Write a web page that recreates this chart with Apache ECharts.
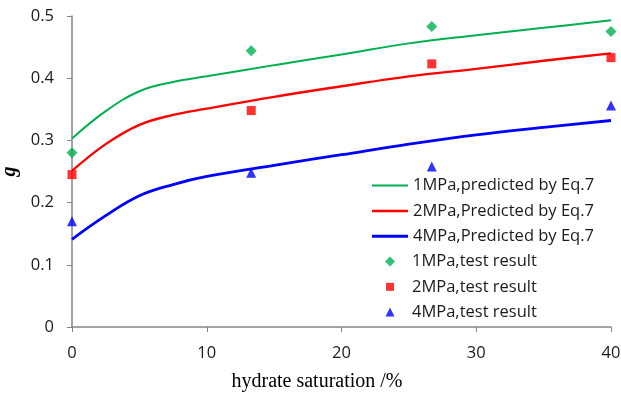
<!DOCTYPE html>
<html>
<head>
<meta charset="utf-8">
<script src="https://cdn.jsdelivr.net/npm/echarts@6/dist/echarts.min.js"></script>
<style>
  html, body { margin: 0; padding: 0; background: #fff; }
  #chart { width: 621px; height: 394px; }
</style>
</head>
<body>
<div id="chart"></div>
<script>
// Hydrate saturation (%) where the model curves are evaluated
const curveX = [0, 2.5, 5, 7.5, 10, 15, 20, 25, 30, 35, 40];
// Predicted g (Eq.7) at each confining pressure
const pred1MPa = [0.303, 0.347, 0.379, 0.394, 0.403, 0.421, 0.438, 0.456, 0.469, 0.481, 0.493];
const pred2MPa = [0.251, 0.294, 0.325, 0.341, 0.351, 0.370, 0.387, 0.403, 0.415, 0.428, 0.440];
const pred4MPa = [0.141, 0.179, 0.211, 0.229, 0.242, 0.260, 0.277, 0.294, 0.309, 0.321, 0.332];

// Measured g values from the tests
const testX = [0, 13.3, 26.7, 40];
const test1MPa = [0.280, 0.444, 0.483, 0.475];
const test2MPa = [0.245, 0.348, 0.423, 0.433];
const test4MPa = [0.170, 0.248, 0.258, 0.356];

const xTicks = { min: 0, max: 40, interval: 10 };
const yTicks = { min: 0, max: 0.5, interval: 0.1 };

const names = [
  '1MPa,predicted by Eq.7', '2MPa,Predicted by Eq.7', '4MPa,Predicted by Eq.7',
  '1MPa,test result', '2MPa,test result', '4MPa,test result'
];

const pair = (xs, ys) => xs.map((x, i) => [x, ys[i]]);

const GREEN = '#00B050', RED = '#FF0000', BLUE = '#0000FF', AXIS = '#868686';
const FONT = 'Open Sans';
const TEXT = '#1a1a1a';
const FONT_SIZE = 16.5;

// Legend rows: one legend per entry so each key sits on its own baseline
const rowCenters = [185, 210.5, 235.8, 261, 286.3, 311.5];
const lineKeys = [
  { color: GREEN, width: 2 },
  { color: RED, width: 2.5 },
  { color: BLUE, width: 3 }
];
const markKeys = [
  { icon: 'diamond', size: 10 },
  { icon: 'rect', size: 8 },
  { icon: 'triangle', size: 9 }
];
const legendText = { fontFamily: FONT, fontSize: FONT_SIZE, color: TEXT };

const legends = [];
lineKeys.forEach((k, i) => {
  legends.push({
    data: [{ name: names[i], icon: 'rect' }],
    left: 372, top: rowCenters[i] - 8,
    padding: 0,
    itemWidth: 36, itemHeight: k.width,
    itemStyle: { borderWidth: 0 },
    textStyle: legendText
  });
});
markKeys.forEach((k, i) => {
  legends.push({
    data: [{ name: names[i + 3], icon: k.icon }],
    left: 390 - k.size / 2, top: rowCenters[i + 3] - 8,
    padding: 0,
    itemWidth: k.size, itemHeight: k.size,
    itemStyle: { borderWidth: 0 },
    textStyle: Object.assign({}, legendText, { padding: [0, 0, 0, 17 - k.size / 2] })
  });
});

const chart = echarts.init(document.getElementById('chart'), null, { renderer: 'canvas' });

chart.setOption({
  animation: false,
  backgroundColor: '#fff',
  grid: { left: 72, right: 10, top: 16, bottom: 67, containLabel: false, outerBoundsMode: 'none' },
  legend: legends,
  xAxis: {
    type: 'value',
    min: xTicks.min, max: xTicks.max, interval: xTicks.interval,
    name: 'hydrate saturation /%',
    nameLocation: 'middle',
    nameGap: 45,
    nameTextStyle: { fontFamily: 'Liberation Serif', fontSize: 20, color: '#000', padding: [0, 49, 0, 0] },
    axisLine: { show: true, lineStyle: { color: AXIS, width: 1.5 } },
    axisTick: { show: true, length: 5, lineStyle: { color: AXIS, width: 1 } },
    axisLabel: { margin: 18, fontFamily: FONT, fontSize: FONT_SIZE, color: TEXT },
    splitLine: { show: false }
  },
  yAxis: {
    type: 'value',
    min: yTicks.min, max: yTicks.max, interval: yTicks.interval,
    name: 'g',
    nameLocation: 'middle',
    nameGap: 46,
    nameTextStyle: { fontFamily: 'Liberation Serif', fontSize: 20, fontStyle: 'italic', fontWeight: 'bold', color: '#000' },
    axisLine: { show: true, lineStyle: { color: AXIS, width: 1.5 } },
    axisTick: { show: true, length: 5, lineStyle: { color: AXIS, width: 1 } },
    axisLabel: { margin: 18, fontFamily: FONT, fontSize: FONT_SIZE, color: TEXT },
    splitLine: { show: false }
  },
  series: [
    { name: names[0], type: 'line', data: pair(curveX, pred1MPa), smooth: 0.4,
      symbol: 'none', lineStyle: { color: GREEN, width: 2 }, itemStyle: { color: GREEN } },
    { name: names[1], type: 'line', data: pair(curveX, pred2MPa), smooth: 0.4,
      symbol: 'none', lineStyle: { color: RED, width: 2.4 }, itemStyle: { color: RED } },
    { name: names[2], type: 'line', data: pair(curveX, pred4MPa), smooth: 0.4,
      symbol: 'none', lineStyle: { color: BLUE, width: 2.8 }, itemStyle: { color: BLUE } },
    { name: names[3], type: 'scatter', data: pair(testX, test1MPa), symbol: 'diamond', symbolSize: 11,
      clip: false, itemStyle: { color: GREEN } },
    { name: names[4], type: 'scatter', data: pair(testX, test2MPa), symbol: 'rect', symbolSize: 9,
      clip: false, itemStyle: { color: RED } },
    { name: names[5], type: 'scatter', data: pair(testX, test4MPa), symbol: 'triangle', symbolSize: 10,
      clip: false, itemStyle: { color: BLUE } }
  ]
});
</script>
</body>
</html>
